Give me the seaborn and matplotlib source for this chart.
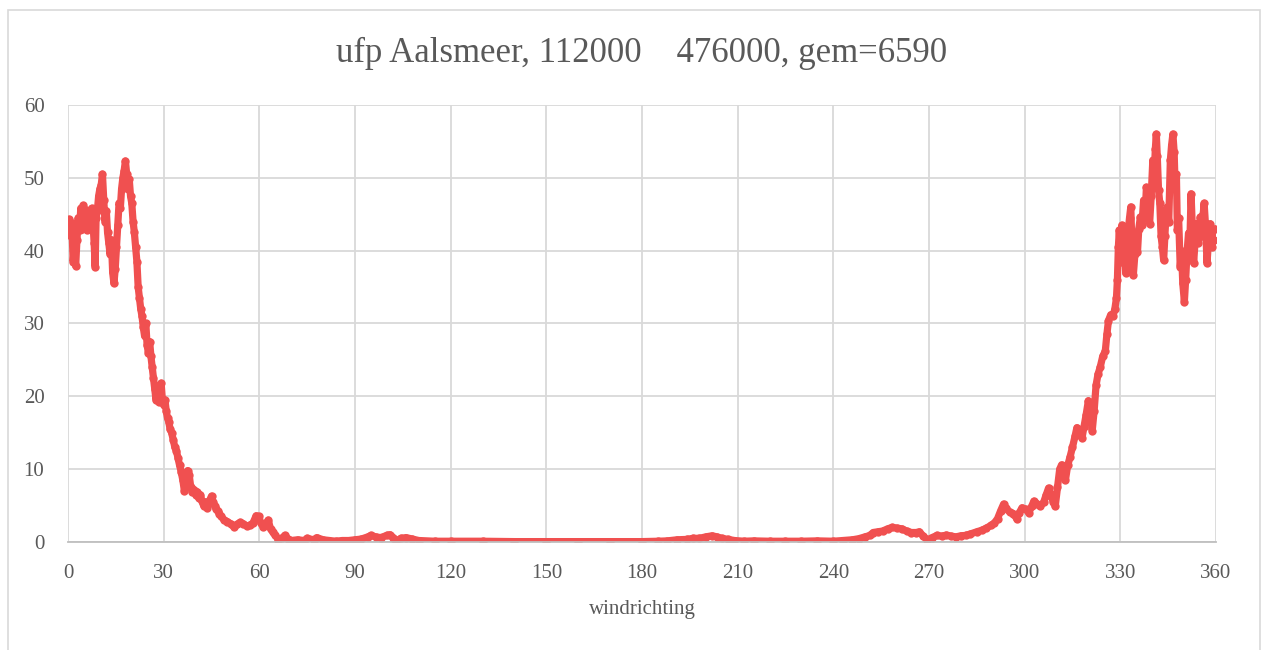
import matplotlib
matplotlib.use("Agg")
import matplotlib.pyplot as plt
import pandas as pd
import seaborn as sns
from matplotlib.patches import Rectangle

# wind direction (degrees) and ufp values
windrichting = [
    0.0, 0.4, 0.8, 1.2, 1.6, 2.0, 2.4, 2.8, 3.2, 3.6, 4.0, 4.4, 4.8, 5.2, 5.6,
    6.0, 6.5, 7.0, 7.4, 7.8, 8.2, 8.5, 8.8, 9.2, 9.6, 10.0, 10.4, 10.8, 11.2,
    11.6, 12.0, 12.4, 12.8, 13.2, 13.6, 14.0, 14.4, 14.8, 15.2, 15.6, 16.0,
    16.4, 16.8, 17.2, 17.6, 18.0, 18.4, 18.8, 19.2, 19.6, 20.0, 20.4, 20.8,
    21.2, 21.6, 22.0, 22.4, 22.8, 23.2, 23.6, 24.0, 24.4, 24.8, 25.2, 25.6,
    26.0, 26.4, 26.8, 27.2, 27.6, 28.0, 28.4, 28.8, 29.2, 29.6, 30.0, 30.4,
    30.8, 31.2, 31.6, 32.0, 32.5, 33.0, 33.5, 34.0, 34.5, 35.0, 35.5, 36.0,
    36.5, 37.0, 37.5, 38.0, 38.5, 39.0, 39.5, 40.0, 40.5, 41.0, 41.5, 42.0,
    42.5, 43.0, 43.5, 44.0, 44.5, 45.0, 45.5, 46.0, 46.5, 47.0, 47.5, 48.0,
    49.0, 50.0, 51.0, 52.0, 53.0, 54.0, 55.0, 56.0, 57.0, 58.0, 59.0, 59.8,
    60.5, 61.3, 62.0, 62.8, 63.5, 64.2, 65.0, 66.0, 67.0, 68.0, 69.0, 70.0,
    72.0, 74.0, 75.0, 77.0, 78.0, 80.0, 82.0, 84.0, 86.0, 88.0, 90.0, 92.0,
    94.0, 95.0, 96.5, 98.0, 100.0, 101.0, 102.0, 103.0, 104.5, 106.0, 108.0,
    110.0, 115.0, 120.0, 130.0, 140.0, 150.0, 160.0, 170.0, 180.0, 185.0,
    188.0, 191.0, 194.0, 196.0, 198.0, 200.0, 202.0, 203.5, 205.0, 207.0,
    209.0, 212.0, 215.0, 220.0, 225.0, 230.0, 235.0, 240.0, 243.0, 246.0,
    248.0, 250.0, 251.5, 252.5, 254.0, 255.5, 257.0, 258.5, 260.0, 261.5,
    263.0, 264.5, 266.0, 267.0, 268.2, 269.5, 271.0, 272.5, 274.0, 275.5,
    277.0, 278.5, 280.0, 281.5, 283.0, 285.0, 286.5, 288.0, 289.5, 290.5,
    291.5, 292.5, 293.4, 294.2, 295.3, 296.5, 297.5, 298.3, 299.2, 300.3,
    301.3, 302.2, 302.9, 304.0, 304.9, 306.0, 306.8, 307.5, 308.3, 309.0,
    309.6, 310.3, 311.0, 311.6, 312.2, 312.8, 313.5, 314.2, 315.0, 315.8,
    316.4, 317.2, 318.0, 318.6, 319.3, 320.0, 320.6, 321.2, 321.8, 322.4,
    323.0, 323.7, 324.5, 325.3, 325.8, 326.3, 327.0, 327.7, 328.3, 328.8,
    329.1, 329.4, 329.7, 330.1, 330.5, 330.9, 331.3, 331.7, 332.1, 332.5,
    332.9, 333.3, 333.7, 334.1, 334.6, 335.0, 335.4, 335.8, 336.3, 336.8,
    337.3, 337.8, 338.2, 338.7, 339.2, 339.7, 340.2, 340.6, 341.0, 341.3,
    341.6, 342.0, 342.4, 342.8, 343.2, 343.6, 344.0, 344.4, 344.8, 345.2,
    345.7, 346.1, 346.5, 346.9, 347.2, 347.6, 347.9, 348.3, 348.8, 349.2,
    349.6, 350.1, 350.5, 350.9, 351.4, 351.8, 352.2, 352.6, 353.0, 353.5,
    354.0, 354.5, 355.1, 355.6, 356.0, 356.3, 356.8, 357.2, 357.7, 358.2,
    358.7, 359.3, 359.8,
]
ufp = [
    43.5, 44.3, 42.0, 43.8, 38.5, 40.5, 37.9, 41.5, 44.5, 42.8, 45.8, 43.0, 46.2, 43.5, 45.6,
    42.8, 45.5, 43.5, 45.8, 44.0, 41.0, 37.8, 44.5, 45.5, 47.5, 48.5, 49.0, 50.5, 47.0,
    44.0, 45.5, 42.5, 41.0, 39.5, 41.5, 37.0, 35.5, 37.5, 40.5, 43.5, 46.5,
    45.8, 48.5, 50.0, 51.0, 52.3, 50.5, 48.5, 49.8, 47.5, 46.5, 44.0, 42.5,
    40.5, 38.5, 35.0, 33.5, 32.0, 31.0, 29.5, 28.3, 30.0, 27.0, 26.0, 27.5,
    25.5, 24.0, 22.5, 21.0, 19.5, 20.5, 19.2, 20.0, 21.8, 19.5, 18.8, 19.5,
    18.0, 17.0, 16.5, 15.5, 15.0, 14.0, 13.0, 12.5, 11.5, 10.5, 9.6, 8.5,
    7.0, 8.5, 9.8, 9.2, 7.5, 6.8, 7.2, 6.5, 6.9, 6.0, 6.5, 5.6,
    5.0, 5.5, 4.7, 5.2, 5.8, 6.3, 5.5, 5.0, 4.5, 4.2, 3.9, 3.5,
    3.0, 2.8, 2.5, 2.1, 2.4, 2.7, 2.5, 2.2, 2.3, 2.6, 3.6, 3.5,
    2.6, 2.0, 2.5, 3.0, 1.8, 1.4, 0.9, 0.3, 0.5, 0.9, 0.4, 0.2,
    0.3, 0.2, 0.5, 0.3, 0.6, 0.3, 0.2, 0.1, 0.2, 0.2, 0.3, 0.4,
    0.7, 0.9, 0.7, 0.6, 0.9, 1.0, 0.6, 0.2, 0.5, 0.6, 0.4,
    0.2, 0.1, 0.1, 0.1, 0.05, 0.05, 0.05, 0.05, 0.05, 0.1,
    0.15, 0.3, 0.35, 0.5, 0.5, 0.7, 0.85, 0.7, 0.5, 0.35,
    0.2, 0.1, 0.15, 0.1, 0.1, 0.1, 0.15, 0.1, 0.2, 0.3,
    0.45, 0.7, 0.9, 1.3, 1.4, 1.5, 1.8, 2.0, 1.9, 1.8,
    1.5, 1.3, 1.3, 1.4, 0.8, 0.3, 0.6, 0.9, 0.8, 0.95,
    0.8, 0.7, 0.85, 0.9, 1.1, 1.4, 1.6, 1.9, 2.3, 2.6,
    3.2, 4.3, 5.2, 4.6, 4.1, 3.9, 3.2, 4.0, 4.7, 4.5,
    4.0, 4.9, 5.6, 5.2, 4.9, 5.5, 6.5, 7.4, 6.3, 5.5,
    4.9, 7.5, 10.0, 10.6, 9.5, 8.5, 10.5, 11.6, 13.0, 14.5,
    15.7, 15.0, 14.3, 15.8, 17.5, 19.4, 17.5, 15.3, 18.0, 21.5,
    23.0, 24.0, 25.5, 26.2, 28.5, 30.4, 31.2, 31.0, 32.0, 33.5,
    36.0, 40.5, 42.8, 38.5, 43.5, 38.7, 41.0, 36.9, 40.0, 42.8,
    44.5, 46.0, 40.0, 36.7, 39.5, 41.9, 39.8, 43.0, 44.6, 43.5,
    46.9, 45.0, 48.7, 46.5, 43.7, 47.5, 52.4, 50.0, 54.0, 56.0,
    53.0, 48.3, 46.5, 42.0, 40.5, 38.7, 42.0, 45.5, 46.0, 44.0,
    52.4, 54.5, 56.0, 53.5, 48.7, 50.5, 42.8, 44.5, 37.8, 40.0,
    35.5, 33.0, 36.0, 39.5, 42.4, 40.5, 47.8, 43.0, 38.3, 41.5,
    43.7, 41.0, 44.6, 42.0, 45.0, 46.5, 43.0, 38.3, 41.5, 43.7,
    40.5, 41.5, 43.0,
]

xticks = list(range(0, 361, 30))
yticks = list(range(0, 61, 10))
title = "ufp Aalsmeer, 112000    476000, gem=6590"

df = pd.DataFrame({"windrichting": windrichting, "ufp": ufp})

sns.set_style("white")
plt.rcParams["font.family"] = ["Liberation Serif", "DejaVu Serif"]
grey = "#595959"

fig = plt.figure(figsize=(12.62, 6.5), dpi=100)
ax = fig.add_axes([0.0539, 0.1662, 0.9096, 0.6723])

sns.lineplot(data=df, x="windrichting", y="ufp", sort=False, ax=ax,
             color="#F05050", linewidth=5.2, marker="o", markersize=6,
             markeredgewidth=0)

ax.set_xlim(0, 360)
ax.set_ylim(0, 60)
ax.set_xticks(xticks)
ax.set_yticks(yticks)
ax.grid(True, color="#D9D9D9", linewidth=1.3)
ax.set_axisbelow(True)
for side in ["top", "right", "left"]:
    ax.spines[side].set_visible(False)
ax.spines["bottom"].set_color("#BFBFBF")
ax.spines["bottom"].set_linewidth(1.3)
ax.tick_params(axis="both", length=0, labelsize=15, labelcolor=grey)
ax.tick_params(axis="y", pad=17)
ax.tick_params(axis="x", pad=16)
ax.set_xlabel("windrichting", fontsize=15, color=grey, labelpad=12)
ax.set_ylabel("")
ax.set_title(title, fontsize=25, color=grey, pad=31)

# chart-area border
fig.patches.append(Rectangle((8 / 1262, -0.01), 1252 / 1262, 640 / 650 + 0.01,
                             transform=fig.transFigure, fill=False,
                             edgecolor="#D9D9D9", linewidth=1.2))

fig.savefig("out.png", dpi=100)
